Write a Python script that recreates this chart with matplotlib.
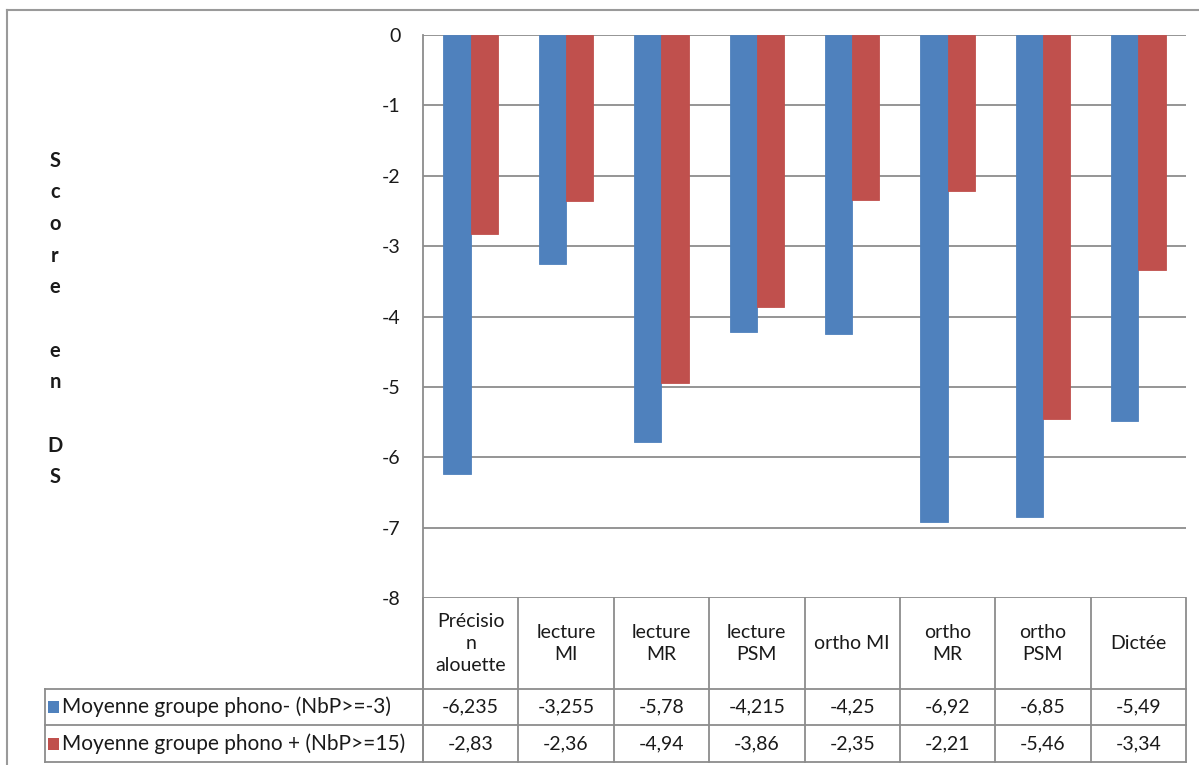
import matplotlib
matplotlib.use("Agg")
from matplotlib import pyplot as plt
from matplotlib.lines import Line2D
from matplotlib.patches import Rectangle
import matplotlib.transforms as mtrans
import numpy as np

plt.rcParams['font.family'] = ['Lato', 'DejaVu Sans']

CATEGORIES = ["Précisio\nn\nalouette", "lecture\nMI", "lecture\nMR", "lecture\nPSM",
              "ortho MI", "ortho\nMR", "ortho\nPSM", "Dictée"]
SERIES_NAMES = ["Moyenne groupe phono- (NbP>=-3)", "Moyenne groupe phono + (NbP>=15)"]
PHONO_MINUS = [-6.235, -3.255, -5.78, -4.215, -4.25, -6.92, -6.85, -5.49]
PHONO_PLUS = [-2.83, -2.36, -4.94, -3.86, -2.35, -2.21, -5.46, -3.34]
COLORS = ["#4F81BD", "#C0504D"]

W, H = 1199, 765
GRID = "#8c8c8c"
TXT = "#1a1a1a"
FS = 14

fig = plt.figure(figsize=(W / 100, H / 100), dpi=100)
# plot area in pixels: x 423..1186, y 35..598
ax = fig.add_axes([423 / W, 1 - 598 / H, (1186 - 423) / W, (598 - 35) / H])

x = np.arange(len(CATEGORIES))
bw = 1 / 3.5
for vals, col, off in [(PHONO_MINUS, COLORS[0], -bw / 2), (PHONO_PLUS, COLORS[1], bw / 2)]:
    ax.bar(x + off, vals, bw, color=col, edgecolor=col, linewidth=0.6, zorder=3)

ax.set_xlim(-0.5, len(CATEGORIES) - 0.5)
ax.set_ylim(-8, 0)
ax.set_yticks(range(-8, 1))
ax.set_yticklabels([str(v) for v in range(-8, 1)], fontsize=FS, color=TXT)
ax.tick_params(axis='y', length=0, pad=16)
ax.set_xticks([])
ax.yaxis.grid(True, color=GRID, linewidth=1.3, zorder=0)
for side in ['top', 'right', 'bottom']:
    ax.spines[side].set_visible(False)
ax.spines['left'].set_color(GRID)
ax.spines['left'].set_linewidth(1.3)

# axis title, one letter per line
ax.text(55 / W, 1 - 319 / H, "\n".join("Score en DS"), transform=fig.transFigure,
        ha='center', va='center', fontsize=14.5, fontweight='bold', color=TXT,
        linespacing=1.73)

# data table below the plot
tr = mtrans.blended_transform_factory(ax.transData, ax.transAxes)
ph = 598 - 35


def ay(py):
    return (598 - py) / ph


legend_left = (45 - 423) / (1186 - 423)
ta = ax.transAxes
rows = [598, 689, 725, 762]
n = len(CATEGORIES)


def line(xs, ys, transform):
    ax.add_line(Line2D(xs, ys, transform=transform, color=GRID, linewidth=1.3,
                       clip_on=False, zorder=4))


for r in rows[1:]:
    line([legend_left, 1], [ay(r), ay(r)], ta)
line([legend_left, legend_left], [ay(rows[1]), ay(rows[3])], ta)
line([0, 0], [ay(rows[0]), ay(rows[3])], ta)
for i in range(n + 1):
    line([i - 0.5, i - 0.5], [ay(rows[0]), ay(rows[3])], tr)

for i, cat in enumerate(CATEGORIES):
    ax.text(i, ay((rows[0] + rows[1]) / 2), cat, transform=tr, ha='center', va='center',
            fontsize=FS, color=TXT, linespacing=1.34, clip_on=False)

for k, vals in enumerate([PHONO_MINUS, PHONO_PLUS]):
    yc = ay((rows[k + 1] + rows[k + 2]) / 2)
    for i, v in enumerate(vals):
        ax.text(i, yc, str(v).replace('.', ','), transform=tr, ha='center', va='center',
                fontsize=FS, color=TXT, clip_on=False)
    fig.add_artist(Rectangle((48 / W, 1 - ((rows[k + 1] + rows[k + 2]) / 2 + 6) / H),
                             11 / W, 12 / H, transform=fig.transFigure,
                             facecolor=COLORS[k], edgecolor='none'))
    fig.text(62 / W, 1 - (rows[k + 1] + rows[k + 2]) / 2 / H, SERIES_NAMES[k],
             ha='left', va='center', fontsize=15, color=TXT)

# chart frame
fig.add_artist(Line2D([7 / W, 7 / W], [0, 1 - 10 / H], transform=fig.transFigure,
                      color="#9a9a9a", linewidth=1.5))
fig.add_artist(Line2D([7 / W, 1], [1 - 10 / H, 1 - 10 / H], transform=fig.transFigure,
                      color="#9a9a9a", linewidth=1.5))

fig.savefig("out.png", dpi=100)
